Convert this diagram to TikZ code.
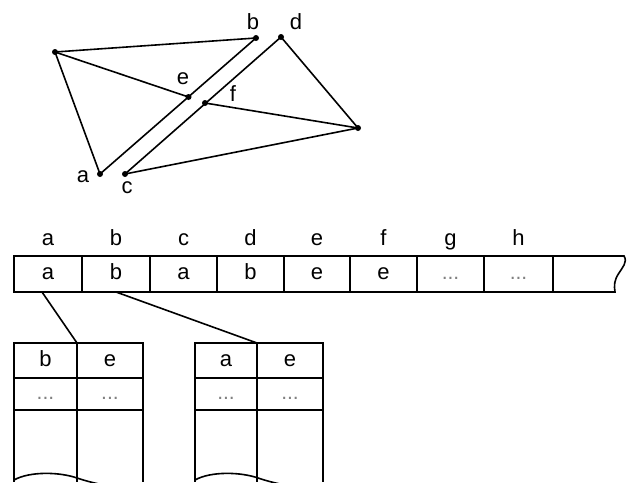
\documentclass[tikz,border=0pt]{standalone}
\usepackage{fontspec}
\setmainfont{Liberation Sans}
\begin{document}
\begin{tikzpicture}[x=1pt,y=-1pt,
  edge/.style={line width=1.6pt},
  vtx/.style={circle,fill,inner sep=0pt,outer sep=0pt,minimum size=6pt},
  lbl/.style={font=\fontsize{22}{22}\selectfont,inner sep=0pt,anchor=base},
  cellbox/.style={draw,line width=1.6pt,inner sep=0pt,outer sep=0pt,
    anchor=north west,font=\fontsize{22}{22}\selectfont,
    text height=11pt,text depth=0pt},
  dots/.style={text=black!50,font=\fontsize{21}{21}\selectfont}
]
\useasboundingbox (0,0) rectangle (629,482);

% ---- planar subdivision ----
\node[vtx] (p) at (55,52) {};
\node[vtx] (b) at (256,38) {};
\node[vtx] (d) at (281,37) {};
\node[vtx] (e) at (188.5,97) {};
\node[vtx] (f) at (205,103) {};
\node[vtx] (r) at (358,128) {};
\node[vtx] (a) at (100,174) {};
\node[vtx] (c) at (125,174) {};

\draw[edge] (p.center) -- (b.center);
\draw[edge] (p.center) -- (e.center);
\draw[edge] (p.center) -- (a.center);
\draw[edge] (a.center) -- (b.center);
\draw[edge] (c.center) -- (d.center);
\draw[edge] (d.center) -- (r.center);
\draw[edge] (f.center) -- (r.center);
\draw[edge] (c.center) -- (r.center);

\node[lbl] (lb) at (253,29) {b};
\node[lbl] (ld) at (296,29) {d};
\node[lbl] (le) at (183,84) {e};
\node[lbl] (lf) at (233,101) {f};
\node[lbl] (la) at (83,182) {a};
\node[lbl] (lc) at (127,193) {c};

% ---- array of half-edge twins ----
\node[cellbox,minimum width=68pt,minimum height=36pt] (cA) at (14,256) {a};
\node[cellbox,minimum width=68pt,minimum height=36pt] (cB) at (82,256) {b};
\node[cellbox,minimum width=67pt,minimum height=36pt] (cC) at (150,256) {a};
\node[cellbox,minimum width=67pt,minimum height=36pt] (cD) at (217,256) {b};
\node[cellbox,minimum width=66pt,minimum height=36pt] (cE) at (284,256) {e};
\node[cellbox,minimum width=67pt,minimum height=36pt] (cF) at (350,256) {e};
\node[cellbox,minimum width=67pt,minimum height=36pt,dots] (cG) at (417,256) {...};
\node[cellbox,minimum width=69pt,minimum height=36pt,dots] (cH) at (484,256) {...};
% open-ended last cell with a torn right edge
\coordinate (tA) at (624,256);
\coordinate (tB) at (615,292);
\draw[edge,line join=miter] (cH.north east) -- (tA)
  .. controls (628,262) and (622,268) .. (619,273)
  .. controls (614,280) and (614,286) .. (tB) -- (cH.south east);

\foreach \n/\t in {A/a,B/b,C/c,D/d,E/e,F/f,G/g,H/h}
  \node[lbl] (h\n) at ([yshift=11pt]c\n.north) {\t};

% ---- edge lists ----
\node[cellbox,minimum width=63pt,minimum height=35pt] (uA) at (14,343) {b};
\node[cellbox,minimum width=66pt,minimum height=35pt] (uB) at (77,343) {e};
\node[cellbox,minimum width=63pt,minimum height=32pt,dots] (uC) at (14,378) {...};
\node[cellbox,minimum width=66pt,minimum height=32pt,dots] (uD) at (77,378) {...};

\node[cellbox,minimum width=62pt,minimum height=35pt] (vA) at (195,343) {a};
\node[cellbox,minimum width=66pt,minimum height=35pt] (vB) at (257,343) {e};
\node[cellbox,minimum width=62pt,minimum height=32pt,dots] (vC) at (195,378) {...};
\node[cellbox,minimum width=66pt,minimum height=32pt,dots] (vD) at (257,378) {...};

\coordinate (uL) at (14,482);
\coordinate (uM) at (77,482);
\coordinate (uR) at (143,482);
\coordinate (vL) at (195,482);
\coordinate (vM) at (257,482);
\coordinate (vR) at (323,482);
\draw[edge] (uC.south west) -- (uL) (uD.south west) -- (uM) (uD.south east) -- (uR);
\draw[edge] (vC.south west) -- (vL) (vD.south west) -- (vM) (vD.south east) -- (vR);

\begin{scope}
\clip (0,0) rectangle (629,482);
\foreach \dx in {0,181}
  \draw[edge] (14+\dx,480) .. controls (30+\dx,471) and (60+\dx,472) .. (77+\dx,478)
    .. controls (95+\dx,484) and (115+\dx,488) .. (143+\dx,489);
\end{scope}

% ---- pointers ----
\draw[edge] ([xshift=-6pt]cA.south) -- (uA.north east);
\draw[edge] (cB.south) -- (vA.north east);
\end{tikzpicture}
\end{document}
